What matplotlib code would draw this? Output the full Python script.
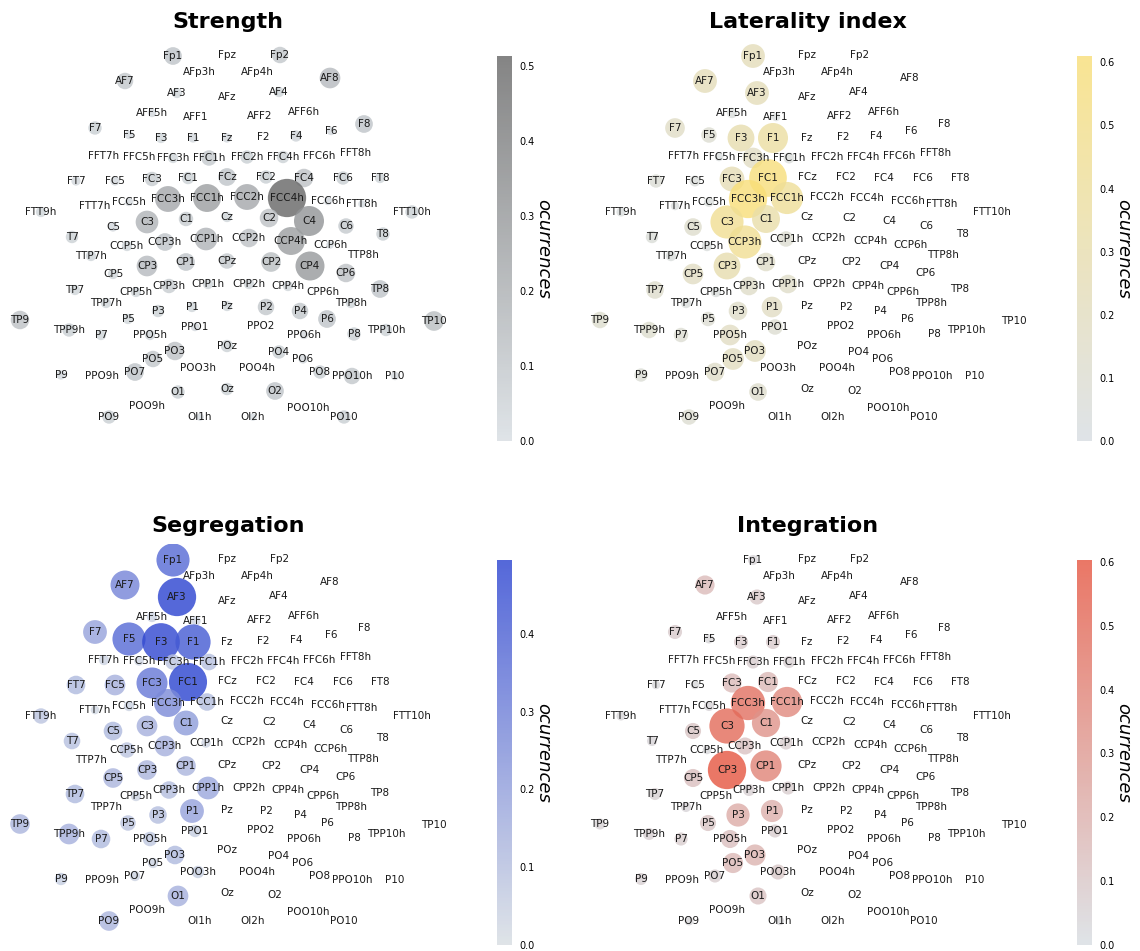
import matplotlib
matplotlib.use("Agg")
import matplotlib.pyplot as plt
import numpy as np
from matplotlib.colors import LinearSegmentedColormap

# electrode layout (2D projection, Cz at origin, y up)
electrodes = [
    "Fp1", "Fpz", "Fp2", "AFp3h", "AFp4h", "AF7", "AF3", "AFz", "AF4", "AF8",
    "AFF5h", "AFF1", "AFF2", "AFF6h", "F7", "F5", "F3", "F1", "Fz", "F2",
    "F4", "F6", "F8", "FFT7h", "FFC5h", "FFC3h", "FFC1h", "FFC2h", "FFC4h", "FFC6h",
    "FFT8h", "FT7", "FC5", "FC3", "FC1", "FCz", "FC2", "FC4", "FC6", "FT8",
    "FTT9h", "FTT7h", "FCC5h", "FCC3h", "FCC1h", "FCC2h", "FCC4h", "FCC6h", "FTT8h", "FTT10h",
    "T7", "C5", "C3", "C1", "Cz", "C2", "C4", "C6", "T8", "TTP7h",
    "CCP5h", "CCP3h", "CCP1h", "CCP2h", "CCP4h", "CCP6h", "TTP8h", "TP7", "CP5", "CP3",
    "CP1", "CPz", "CP2", "CP4", "CP6", "TP8", "TPP7h", "CPP5h", "CPP3h", "CPP1h",
    "CPP2h", "CPP4h", "CPP6h", "TPP8h", "TP9", "P7", "P5", "P3", "P1", "Pz",
    "P2", "P4", "P6", "P8", "TP10", "TPP9h", "PPO5h", "PPO1", "PPO2", "PPO6h",
    "TPP10h", "P9", "PPO9h", "PO7", "PO5", "PO3", "POz", "PO4", "PO6", "PO8",
    "PPO10h", "P10", "POO3h", "POO4h", "O1", "Oz", "O2", "POO9h", "POO10h", "PO9",
    "OI1h", "OI2h", "PO10",
]
pos_x = [
    -54, 0, 53, -28, 30, -102, -50, 0, 52, 103,
    -75, -31, 33, 77, -132, -98, -66, -34, 0, 36,
    69, 104, 137, -123, -88, -54, -18, 20, 56, 92,
    129, -151, -112, -75, -39, 0, 39, 77, 116, 153,
    -186, -132, -98, -59, -20, 20, 60, 101, 135, 185,
    -155, -114, -80, -41, 0, 42, 82, 119, 156, -136,
    -100, -62, -21, 22, 64, 103, 136, -152, -114, -80,
    -41, 0, 44, 83, 119, 153, -121, -91, -58, -19,
    22, 61, 96, 124, -207, -126, -99, -69, -35, 0,
    39, 73, 100, 127, 207, -158, -77, -32, 34, 77,
    159, -166, -125, -92, -74, -52, 0, 52, 76, 93,
    125, 168, -29, 30, -49, 0, 48, -80, 81, -118,
    -27, 26, 117,
]
pos_y = [
    161, 162, 162, 145, 145, 136, 124, 120, 125, 139,
    104, 100, 101, 105, 89, 82, 79, 79, 79, 80,
    81, 86, 93, 61, 60, 59, 59, 60, 60, 61,
    64, 36, 36, 38, 39, 40, 40, 39, 39, 39,
    5, 11, 15, 18, 19, 20, 19, 16, 13, 5,
    -20, -10, -5, -2, 0, -1, -4, -9, -17, -39,
    -29, -25, -22, -21, -24, -28, -38, -73, -57, -49,
    -45, -44, -45, -49, -56, -72, -86, -75, -69, -67,
    -67, -69, -75, -86, -103, -118, -102, -94, -90, -89,
    -90, -94, -102, -117, -104, -113, -118, -110, -109, -118,
    -113, -158, -159, -155, -142, -134, -129, -135, -142, -155,
    -159, -159, -151, -151, -175, -172, -174, -189, -191, -200,
    -200, -200, -200,
]

# occurrence values per electrode (electrodes not listed are 0)
strength = {
    "Fp1": 0.11, "Fp2": 0.095, "AF7": 0.095, "AF8": 0.15, "AF3": 0.037, "AF4": 0.037,
    "AFF5h": 0.025, "F7": 0.063, "F5": 0.025, "F3": 0.037, "F1": 0.03, "Fz": 0.03,
    "F4": 0.045, "F6": 0.025, "F8": 0.11, "FFC3h": 0.037, "FFC1h": 0.084, "FFC2h": 0.063,
    "FFC4h": 0.054, "FT7": 0.03, "FC5": 0.03, "FC3": 0.073, "FC1": 0.054, "FCz": 0.11,
    "FC2": 0.063, "FC4": 0.12, "FC6": 0.063, "FT8": 0.037, "FTT9h": 0.037, "FCC5h": 0.025,
    "FCC3h": 0.234, "FCC1h": 0.273, "FCC2h": 0.234, "FCC4h": 0.513, "FCC6h": 0.025,
    "FTT8h": 0.02, "FTT10h": 0.063, "T7": 0.054, "C5": 0.03, "C3": 0.18, "C1": 0.073,
    "Cz": 0.037, "C2": 0.12, "C4": 0.315, "C6": 0.084, "T8": 0.063, "TTP7h": 0.037,
    "CCP5h": 0.037, "CCP3h": 0.11, "CCP1h": 0.18, "CCP2h": 0.12, "CCP4h": 0.273,
    "CCP6h": 0.02, "CP5": 0.037, "CP3": 0.15, "CP1": 0.11, "CPz": 0.084, "CP2": 0.135,
    "CP4": 0.294, "CP6": 0.12, "TP7": 0.037, "CPP5h": 0.037, "CPP3h": 0.073,
    "CPP1h": 0.037, "CPP2h": 0.037, "CPP4h": 0.037, "TP8": 0.11, "TPP7h": 0.037,
    "TPP8h": 0.037, "TP9": 0.12, "P7": 0.037, "P5": 0.037, "P3": 0.054, "P1": 0.037,
    "Pz": 0.037, "P2": 0.095, "P4": 0.095, "P6": 0.11, "P8": 0.063, "TP10": 0.135,
    "TPP9h": 0.063, "PPO5h": 0.037, "PPO1": 0.025, "PPO6h": 0.025, "TPP10h": 0.054,
    "P9": 0.03, "PO7": 0.11, "PO5": 0.095, "PO3": 0.12, "POz": 0.054, "PO4": 0.063,
    "PO6": 0.03, "PO8": 0.063, "PPO10h": 0.095, "P10": 0.025, "O1": 0.063, "Oz": 0.054,
    "O2": 0.11, "PO9": 0.063, "PO10": 0.063, "OI1h": 0.02, "OI2h": 0.02,
}
laterality = {
    "Fp1": 0.236, "AF7": 0.236, "AF3": 0.236, "AFF5h": 0.045, "AFF1": 0.03, "F7": 0.161,
    "F5": 0.10, "F3": 0.30, "F1": 0.375, "FFC5h": 0.03, "FFC3h": 0.178, "FFC1h": 0.05,
    "FT7": 0.075, "FC5": 0.05, "FC3": 0.257, "FC1": 0.59, "FCC3h": 0.61, "FCC1h": 0.43,
    "FTT9h": 0.035, "FTT7h": 0.03, "FCC5h": 0.04, "C3": 0.456, "C1": 0.325, "C5": 0.129,
    "T7": 0.064, "TTP7h": 0.045, "CCP5h": 0.045, "CCP3h": 0.456, "CCP1h": 0.10,
    "CP3": 0.30, "CP1": 0.144, "CP5": 0.178, "TP7": 0.129, "CPP5h": 0.045, "CPP3h": 0.144,
    "CPP1h": 0.144, "TPP7h": 0.045, "P3": 0.144, "P1": 0.178, "TP9": 0.114, "P5": 0.087,
    "TPP9h": 0.114, "P7": 0.087, "PPO1": 0.10, "PPO5h": 0.178, "PO3": 0.197, "PO5": 0.197,
    "PO7": 0.144, "P9": 0.075, "O1": 0.129, "PO9": 0.10,
}
segregation = {
    "Fp1": 0.37, "AF7": 0.283, "AF3": 0.495, "AFF5h": 0.036, "AFF1": 0.03, "F7": 0.191,
    "F5": 0.37, "F3": 0.48, "F1": 0.418, "FFT7h": 0.036, "FFC5h": 0.03, "FFC3h": 0.081,
    "FFC1h": 0.093, "FT7": 0.117, "FC5": 0.145, "FC3": 0.325, "FC1": 0.49, "FCC3h": 0.264,
    "FCC1h": 0.104, "FTT9h": 0.081, "FTT7h": 0.025, "FCC5h": 0.036, "C3": 0.145,
    "C1": 0.208, "C5": 0.117, "T7": 0.093, "CCP3h": 0.145, "CCP5h": 0.081, "CCP1h": 0.03,
    "CP3": 0.13, "CP1": 0.13, "CP5": 0.13, "TP7": 0.117, "CPP5h": 0.036, "CPP3h": 0.104,
    "CPP1h": 0.175, "P1": 0.191, "P3": 0.104, "TP9": 0.13, "P5": 0.081, "TPP9h": 0.145,
    "P7": 0.117, "PPO1": 0.052, "PPO5h": 0.071, "PO3": 0.117, "PO5": 0.036, "POO3h": 0.052,
    "P9": 0.052, "PO7": 0.036, "O1": 0.145, "PO9": 0.13,
}
integration = {
    "Fp1": 0.042, "AF7": 0.151, "AF3": 0.094, "F7": 0.082, "F5": 0.034, "F3": 0.082,
    "F1": 0.082, "FFC3h": 0.071, "FFC1h": 0.06, "FT7": 0.03, "FC5": 0.03, "FC3": 0.151,
    "FC1": 0.167, "FCC3h": 0.483, "FCC1h": 0.376, "C3": 0.51, "C1": 0.327, "C5": 0.107,
    "FTT9h": 0.034, "FCC5h": 0.042, "T7": 0.042, "CCP3h": 0.12, "CCP1h": 0.071,
    "CCP5h": 0.03, "CP3": 0.603, "CP1": 0.40, "CP5": 0.135, "TP7": 0.06, "CPP3h": 0.06,
    "CPP1h": 0.071, "P3": 0.221, "P1": 0.202, "TP9": 0.05, "P5": 0.107, "TPP9h": 0.06,
    "P7": 0.071, "TPP7h": 0.042, "PPO1": 0.071, "PPO5h": 0.135, "PO3": 0.184, "PO5": 0.167,
    "POO3h": 0.094, "PO7": 0.071, "P9": 0.06, "O1": 0.12, "PO9": 0.034, "OI1h": 0.03,
}

W, H = 1140, 951
MAX_SIZE = 760  # marker area (pt^2) for the largest value in a panel


def fx(px):
    return px / W


def fy(py):
    return 1 - py / H


def draw_panel(fig, ox, oy, title, values, low, high):
    vals = np.array([values.get(e, 0.0) for e in electrodes])
    vmax = vals.max()
    cmap = LinearSegmentedColormap.from_list(title, [low, high])

    ax = fig.add_axes([fx(ox), fy(oy + 440), 460 / W, 400 / H])
    sc = ax.scatter(pos_x, pos_y, s=MAX_SIZE * vals / vmax, c=vals, cmap=cmap,
                    vmin=0, vmax=vmax, alpha=0.8, linewidths=0, zorder=1)
    for name, x, y in zip(electrodes, pos_x, pos_y):
        ax.text(x, y, name, ha="center", va="center", fontsize=7.5,
                color="#1a1a1a", zorder=2)
    ax.set_xlim(-227, 233)
    ax.set_ylim(-223, 177)
    ax.axis("off")

    fig.text(fx(ox + 228), fy(oy + 22), title, ha="center", va="center",
             fontsize=16, fontweight="bold")

    cax = fig.add_axes([fx(ox + 497), fy(oy + 441), 15 / W, 385 / H])
    cb = fig.colorbar(sc, cax=cax)
    cb.outline.set_visible(False)
    cb.ax.tick_params(length=0, labelsize=7, pad=5)
    cb.set_label("ocurrences", rotation=270, fontsize=13, style="italic",
                 labelpad=13)


def main() -> None:
    fig = plt.figure(figsize=(W / 100, H / 100), dpi=100)
    draw_panel(fig, 0, 0, "Strength", strength, "#d7dde2", "#666666")
    draw_panel(fig, 580, 0, "Laterality index", laterality, "#d7dde2", "#f8de78")
    draw_panel(fig, 0, 504, "Segregation", segregation, "#d7dde2", "#2a42d0")
    draw_panel(fig, 580, 504, "Integration", integration, "#d7dde2", "#e55540")
    fig.savefig("out.png", dpi=100)
    plt.close(fig)


if __name__ == "__main__":
    main()
